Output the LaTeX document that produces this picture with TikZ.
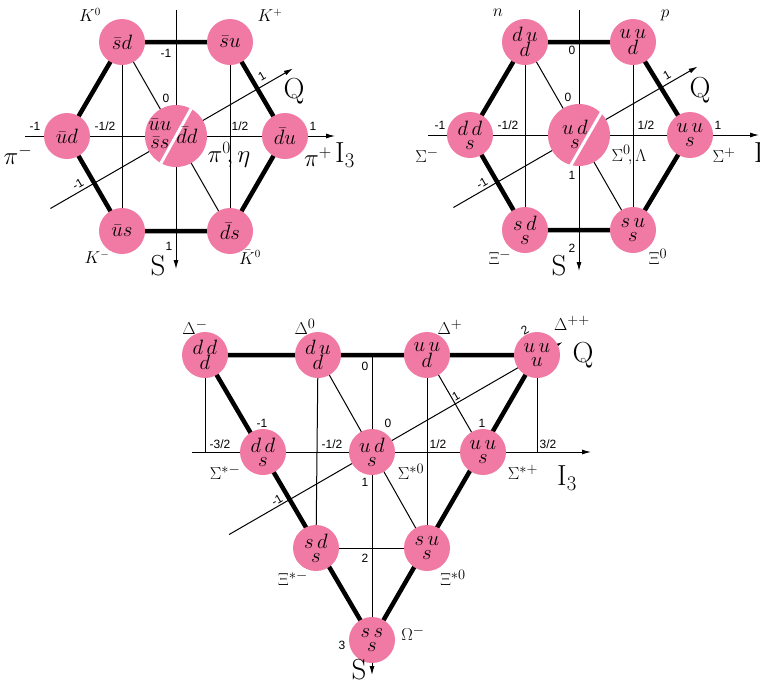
\documentclass[tikz,border=0pt]{standalone}
\usepackage{fontspec}
\newfontfamily\numfont{Liberation Sans}
\usetikzlibrary{arrows.meta, calc}
\pgfdeclarelayer{background}
\pgfsetlayers{background,main}
\definecolor{quarkpink}{RGB}{240,122,163}
\tikzstyle{hadron} = [circle, fill=quarkpink, minimum size=46pt, inner sep=0pt, align=center, font=\fontsize{22}{14}\selectfont]
\tikzstyle{mixed} = [hadron, minimum size=62pt]
\tikzstyle{quarks} = [inner sep=0pt, align=center, font=\fontsize{22}{14}\selectfont]
\tikzstyle{multiplet} = [draw, line width=4.5pt]
\tikzstyle{link} = [draw, line width=1pt]
\tikzstyle{quantum} = [draw, line width=1pt, -{Latex[length=9pt,width=5pt]}]
\tikzstyle{gap} = [draw=white, line width=3pt]
\tikzstyle{num} = [font=\numfont\fontsize{12}{14}\selectfont, inner sep=1pt]
\tikzstyle{axislabel} = [inner sep=0pt, font=\fontsize{29}{31}\selectfont]
\tikzstyle{meson} = [inner sep=0pt, font=\fontsize{16}{18}\selectfont]
\tikzstyle{pion} = [inner sep=0pt, font=\fontsize{23}{25}\selectfont]
\tikzstyle{baryon} = [inner sep=0pt, font=\fontsize{19}{21}\selectfont]

\begin{document}
\begin{tikzpicture}[x=1pt, y=-1pt]
    \useasboundingbox (0,0) rectangle (760,689);

    % Meson octet
    \node [mixed] (pizero) at (176,136) {};
    \node [hadron] (Kzero) at (122,42) {$\bar sd$};
    \node [hadron] (Kplus) at (230,42) {$\bar su$};
    \node [hadron] (piminus) at (67,136) {$\bar ud$};
    \node [hadron] (piplus) at (285,136) {$\bar du$};
    \node [hadron] (Kminus) at (122,231) {$\bar us$};
    \node [hadron] (Kzerobar) at (230,231) {$\bar ds$};
    \draw [gap] ($(pizero)+(61:35pt)$) -- ($(pizero)+(241:35pt)$);
    \node [quarks] (uubar) at ($(pizero)+(-16pt,11pt)$) {$\bar uu$};
    \node [quarks] (ssbar) at ($(pizero)+(-16pt,-7pt)$) {$\bar ss$};
    \node [quarks] (ddbar) at ($(pizero)+(11pt,1pt)$) {$\bar dd$};
    \coordinate (MStop) at (176,10);
    \coordinate (MSbot) at (176,269);
    \coordinate (MIleft) at (25,136);
    \coordinate (MIright) at (335,136);
    \coordinate (MQlow) at ($(pizero)+(210:145pt)$);
    \coordinate (MQhigh) at ($(pizero)+(30:135pt)$);

    % Baryon octet
    \node [mixed] (sigzero) at (579,135) {};
    \node [hadron] (neutron) at (525,42) {$d\,u$\\$d$};
    \node [hadron] (proton) at (633,42) {$u\,u$\\$d$};
    \node [hadron] (sigminus) at (470,135) {$d\,d$\\$s$};
    \node [hadron] (sigplus) at (690,135) {$u\,u$\\$s$};
    \node [hadron] (ximinus) at (525,230) {$s\,d$\\$s$};
    \node [hadron] (xizero) at (633,230) {$s\,u$\\$s$};
    \draw [gap] ($(sigzero)+(7pt,-4pt)+(60:36pt)$) -- ($(sigzero)+(7pt,-4pt)+(240:36pt)$);
    \node [quarks] (uds) at ($(sigzero)+(-4pt,1pt)$) {$u\,d$\\$s$};
    \coordinate (BStop) at (579,10);
    \coordinate (BSbot) at (579,271);
    \coordinate (BIleft) at (428,135);
    \coordinate (BIright) at (759,135);
    \coordinate (BQlow) at ($(sigzero)+(210:145pt)$);
    \coordinate (BQhigh) at ($(sigzero)+(30:137pt)$);

    % Baryon decuplet
    \node [hadron] (delminus) at (205,355) {$d\,d$\\$d$};
    \node [hadron] (delzero) at (318,355) {$d\,u$\\$d$};
    \node [hadron] (delplus) at (427,355) {$u\,u$\\$d$};
    \node [hadron] (delpp) at (537,355) {$u\,u$\\$u$};
    \node [hadron] (sstminus) at (263,452) {$d\,d$\\$s$};
    \node [hadron] (sstzero) at (372,452) {$u\,d$\\$s$};
    \node [hadron] (sstplus) at (483,452) {$u\,u$\\$s$};
    \node [hadron] (xstminus) at (316,548) {$s\,d$\\$s$};
    \node [hadron] (xstzero) at (427,548) {$s\,u$\\$s$};
    \node [hadron] (omega) at (372,640) {$s\,s$\\$s$};
    \coordinate (DStop) at (372,355);
    \coordinate (DSbot) at (372,675);
    \coordinate (DIleft) at (192,452);
    \coordinate (DIright) at (591,452);
    \coordinate (DQlow) at ($(sstzero)+(210:165pt)$);
    \coordinate (DQhigh) at ($(sstzero)+(30:220pt)$);

    % Lines behind the circles
    \begin{pgfonlayer}{background}
        \fill [white] (0,0) rectangle (760,689);
        \draw [quantum] (MStop) -- (MSbot);
        \draw [quantum] (MIleft) -- (MIright);
        \draw [quantum] (MQlow) -- (MQhigh);
        \draw [link] (Kzero.center) -- (Kminus.center);
        \draw [link] (Kplus.center) -- (Kzerobar.center);
        \draw [link] (Kzero.center) -- (Kzerobar.center);
        \draw [multiplet] (Kzero.center) -- (Kplus.center) -- (piplus.center) -- (Kzerobar.center)
            -- (Kminus.center) -- (piminus.center) -- cycle;

        \draw [quantum] (BStop) -- (BSbot);
        \draw [quantum] (BIleft) -- (BIright);
        \draw [quantum] (BQlow) -- (BQhigh);
        \draw [link] (neutron.center) -- (ximinus.center);
        \draw [link] (proton.center) -- (xizero.center);
        \draw [link] (neutron.center) -- (xizero.center);
        \draw [multiplet] (neutron.center) -- (proton.center) -- (sigplus.center) -- (xizero.center)
            -- (ximinus.center) -- (sigminus.center) -- cycle;

        \draw [quantum] (DStop) -- (DSbot);
        \draw [quantum] (DIleft) -- (DIright);
        \draw [quantum] (DQlow) -- (DQhigh);
        \draw [link] (delminus.center) -- (delminus |- sstminus);
        \draw [link] (delpp.center) -- (delpp |- sstplus);
        \draw [link] (delzero.center) -- (xstminus.center);
        \draw [link] (delplus.center) -- (xstzero.center);
        \draw [link] (delzero.center) -- (xstzero.center);
        \draw [link] (delplus.center) -- (sstplus.center);
        \draw [link] (xstminus.center) -- (xstzero.center);
        \draw [multiplet] (delminus.center) -- (delpp.center) -- (omega.center) -- cycle;
    \end{pgfonlayer}

    % Meson labels
    \node [meson] (lKzero) at (90,15) {$K^0$};
    \node [meson] (lKplus) at (270,15) {$K^+$};
    \node [pion] (lpiminus) at (18,155) {$\pi^-$};
    \node [pion] (lpizero) at (229,155) {$\pi^0\!,\eta$};
    \node [pion] (lpiplus) at (318,157) {$\pi^+$};
    \node [meson] (lKminus) at (97,257) {$K^-$};
    \node [meson] (lKzerobar) at (250,257) {$\bar K^0$};
    \node [axislabel] (lMQ) at (294,91) {Q};
    \node [axislabel] (lMS) at (158,266) {S};
    \node [axislabel] (lMI) at (345,155) {$\mathrm{I}_3$};
    \node [num] (mS1) at (166,53) {-1};
    \node [num] (mQ0) at (166,98) {0};
    \node [num] (mS3) at (169,246) {1};
    \node [num] (mI1) at (35,126) {-1};
    \node [num] (mI2) at (105,126) {-1/2};
    \node [num] (mI3) at (240,126) {1/2};
    \node [num] (mI4) at (313,126) {1};
    \node [num, rotate=30] (mQ1) at (262,76) {1};
    \node [num, rotate=30] (mQ2) at (78,184) {-1};

    % Baryon octet labels
    \node [baryon] (lneutron) at (498,13) {$n$};
    \node [baryon] (lproton) at (665,15) {$p$};
    \node [baryon] (lsigminus) at (427,155) {$\Sigma^-$};
    \node [baryon] (lsigzero) at (629,155) {$\Sigma^0\!,\Lambda$};
    \node [baryon] (lsigplus) at (724,155) {$\Sigma^+$};
    \node [baryon] (lximinus) at (500,257) {$\Xi^-$};
    \node [baryon] (lxizero) at (658,257) {$\Xi^0$};
    \node [axislabel] (lBQ) at (700,90) {Q};
    \node [axislabel] (lBS) at (559,266) {S};
    \node [axislabel] (lBI) at (764,155) {$\mathrm{I}_3$};
    \node [num] (bS1) at (572,50) {0};
    \node [num] (bQ0) at (568,97) {0};
    \node [num] (bS2) at (572,175) {1};
    \node [num] (bS3) at (572,248) {2};
    \node [num] (bI1) at (440,125) {-1};
    \node [num] (bI2) at (508,125) {-1/2};
    \node [num] (bI3) at (646,125) {1/2};
    \node [num] (bI4) at (718,125) {1};
    \node [num, rotate=30] (bQ1) at (667,75) {1};
    \node [num, rotate=30] (bQ2) at (482,183) {-1};

    % Decuplet labels
    \node [baryon] (ldelminus) at (195,327) {$\Delta^-$};
    \node [baryon] (ldelzero) at (305,327) {$\Delta^0$};
    \node [baryon] (ldelplus) at (450,327) {$\Delta^+$};
    \node [baryon] (ldelpp) at (572,323) {$\Delta^{++}$};
    \node [baryon] (lsstminus) at (225,472) {$\Sigma^{*-}$};
    \node [baryon] (lsstzero) at (411,472) {$\Sigma^{*0}$};
    \node [baryon] (lsstplus) at (523,472) {$\Sigma^{*+}$};
    \node [baryon] (lxstminus) at (293,578) {$\Xi^{*-}$};
    \node [baryon] (lxstzero) at (453,578) {$\Xi^{*0}$};
    \node [baryon] (lomega) at (413,633) {$\Omega^-$};
    \node [axislabel] (lDQ) at (583,355) {Q};
    \node [axislabel] (lDS) at (359,670) {S};
    \node [axislabel] (lDI) at (567,478) {$\mathrm{I}_3$};
    \node [num] (dS0) at (365,366) {0};
    \node [num] (dQ0) at (388,423) {0};
    \node [num] (dQm) at (262,423) {-1};
    \node [num] (dQp) at (482,423) {1};
    \node [num] (dS1) at (365,482) {1};
    \node [num] (dS2) at (365,558) {2};
    \node [num] (dS3) at (342,645) {3};
    \node [num] (dI1) at (220,444) {-3/2};
    \node [num] (dI2) at (332,444) {-1/2};
    \node [num] (dI3) at (438,444) {1/2};
    \node [num] (dI4) at (548,444) {3/2};
    \node [num, rotate=30] (dQ1) at (456,396) {1};
    \node [num, rotate=30] (dQ2) at (277,500) {-1};
    \node [num, rotate=30] (dQ3) at (525,330) {2};
\end{tikzpicture}
\end{document}
